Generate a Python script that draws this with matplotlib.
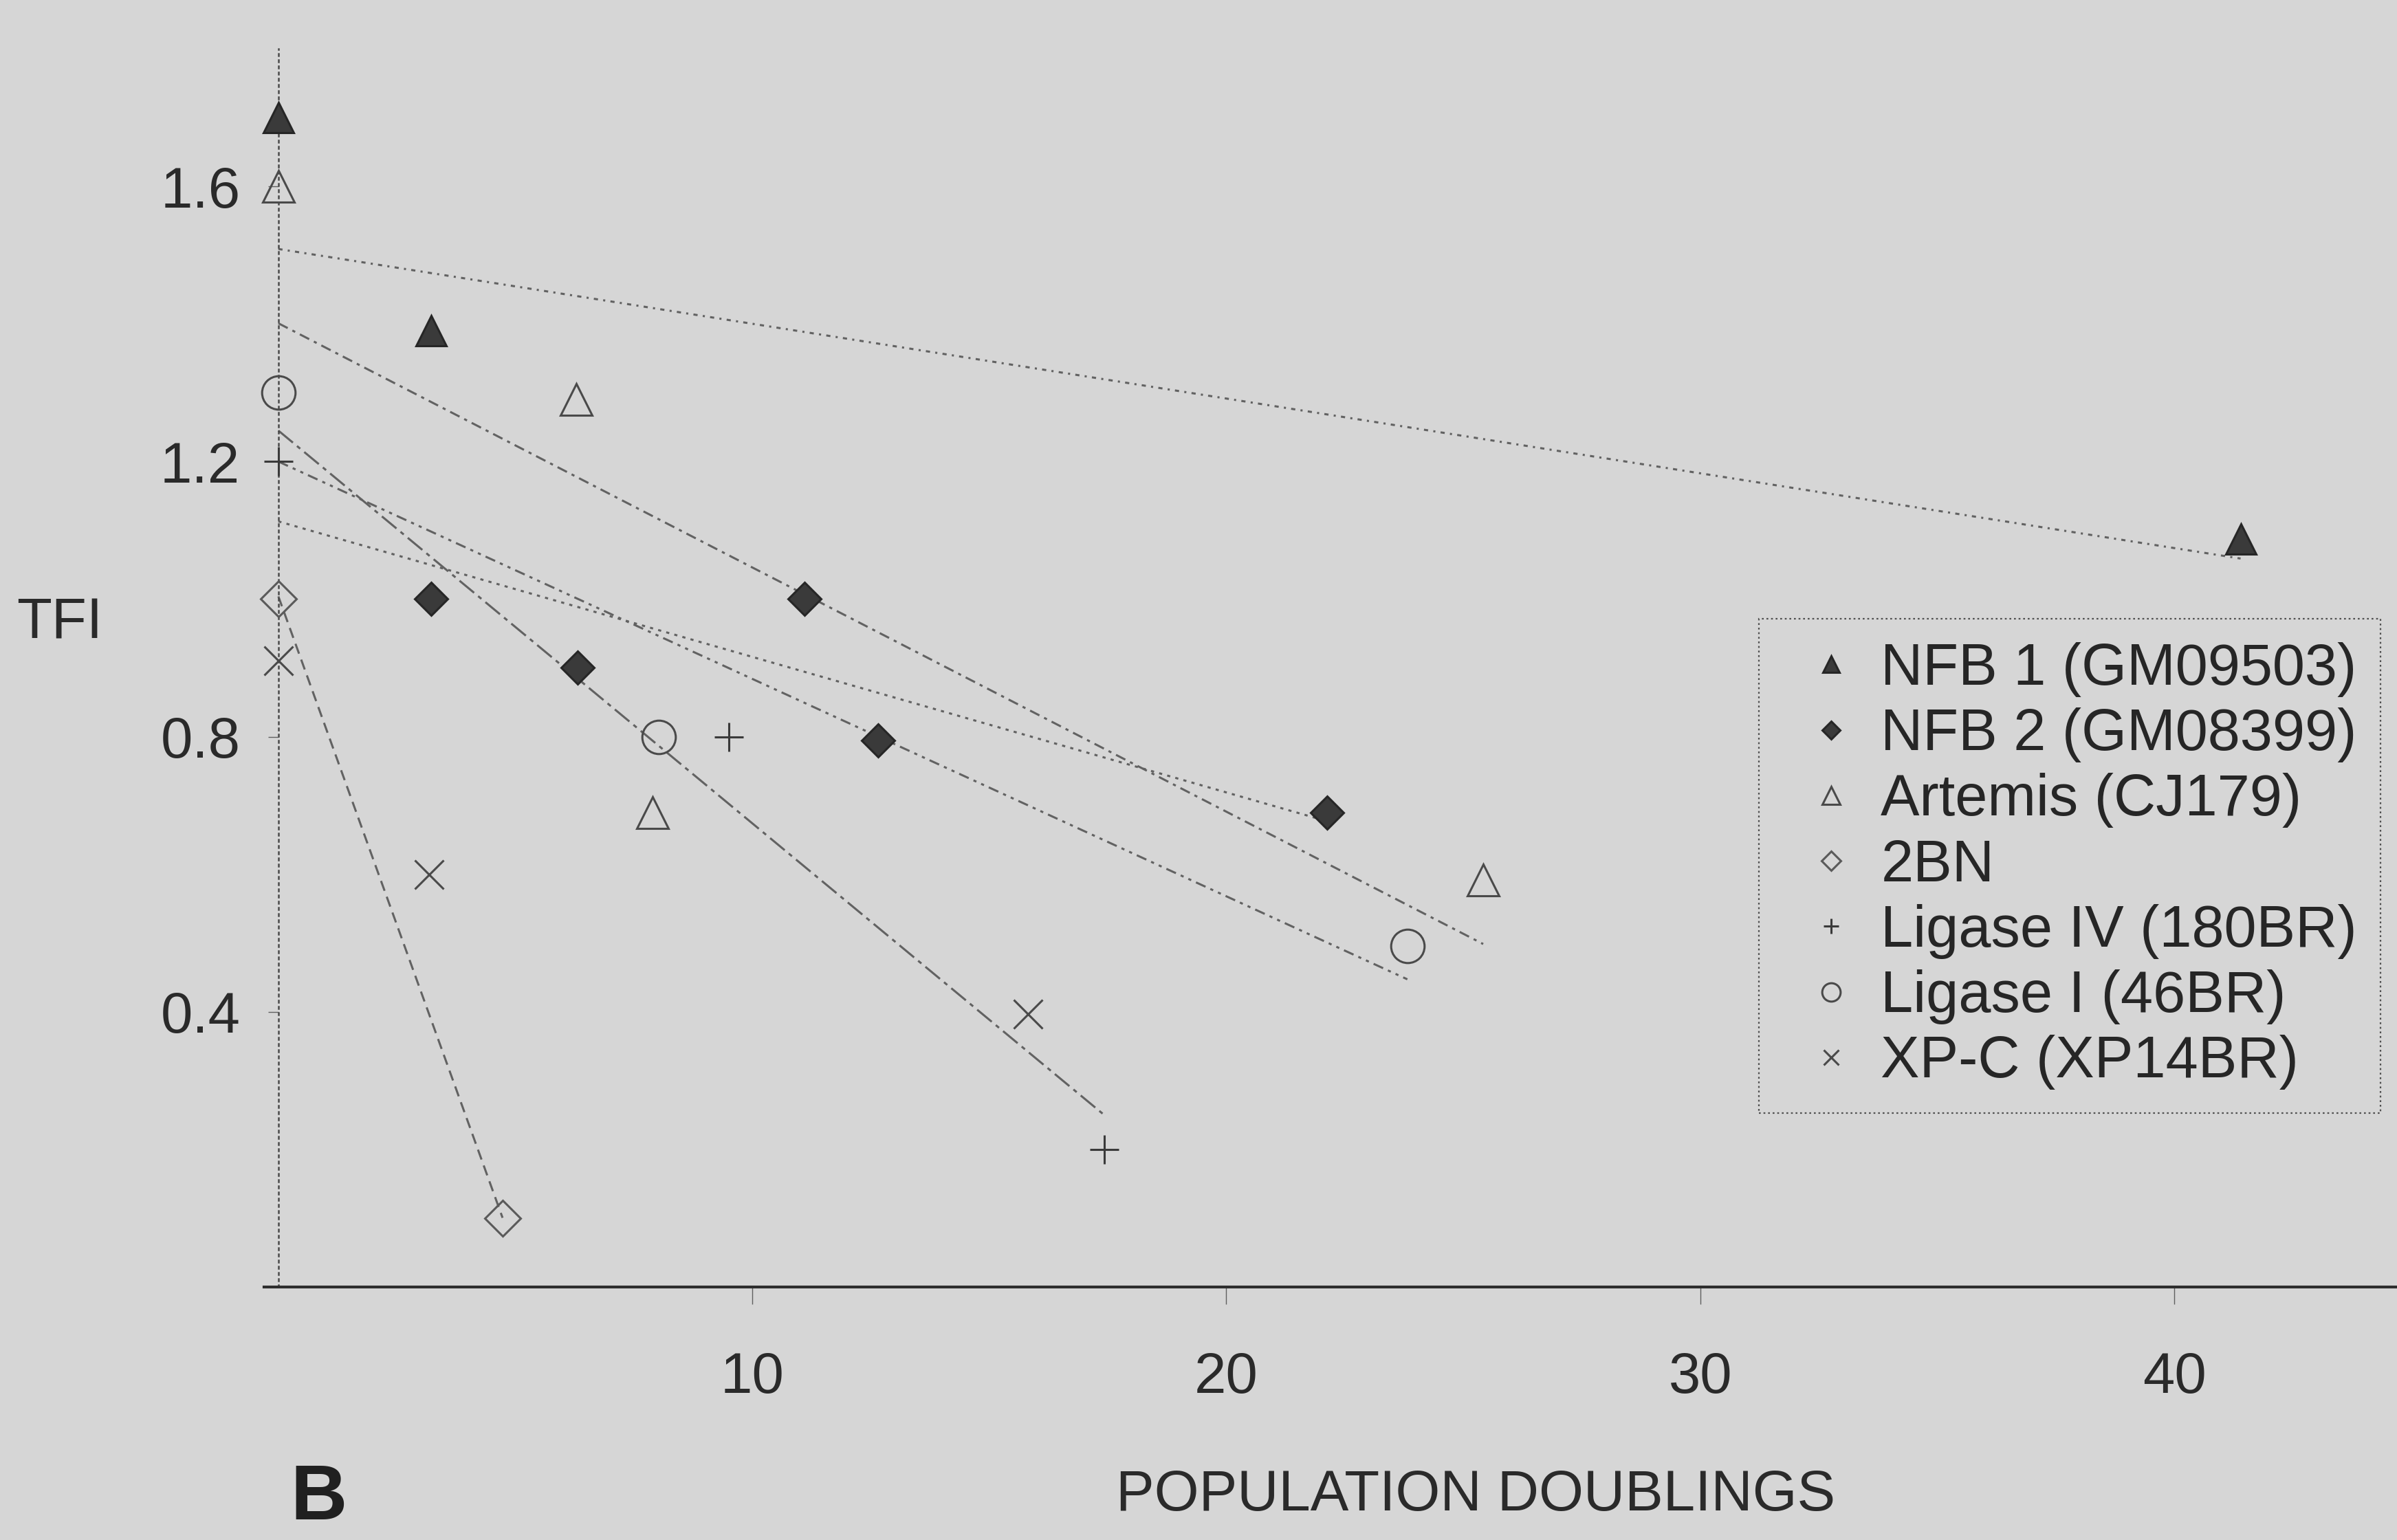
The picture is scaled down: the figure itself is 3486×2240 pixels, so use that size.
import matplotlib.pyplot as plt
import numpy as np

plt.rcParams['font.family'] = ['Liberation Sans', 'DejaVu Sans']

# TFI against population doublings for each cell line
labels = ["NFB 1 (GM09503)", "NFB 2 (GM08399)", "Artemis (CJ179)", "2BN",
          "Ligase IV (180BR)", "Ligase I (46BR)", "XP-C (XP14BR)"]

nfb1_pd = [0, 3.23, 41.4]
nfb1_tfi = [1.70, 1.39, 1.087]

nfb2_pd = [3.23, 6.31, 11.1, 12.65, 22.13]
nfb2_tfi = [1.00, 0.90, 1.00, 0.795, 0.69]

artemis_pd = [0, 6.28, 7.9, 25.42]
artemis_tfi = [1.60, 1.29, 0.69, 0.592]

bn2_pd = [0, 4.73]
bn2_tfi = [1.00, 0.10]

lig4_pd = [0, 9.51, 17.42]
lig4_tfi = [1.20, 0.80, 0.20]

lig1_pd = [0, 8.02, 23.82]
lig1_tfi = [1.30, 0.80, 0.496]

xpc_pd = [0, 3.18, 15.81]
xpc_tfi = [0.91, 0.60, 0.397]

# linear trendlines (intercept, slope); XP-C has none
trend_intercept = [1.509, 1.113, 1.401, 1.004, 1.245, 1.20, None]
trend_slope = [-0.01087, -0.0197, -0.0355, -0.191, -0.0571, -0.0316, None]

xs = [nfb1_pd, nfb2_pd, artemis_pd, bn2_pd, lig4_pd, lig1_pd, xpc_pd]
ys = [nfb1_tfi, nfb2_tfi, artemis_tfi, bn2_tfi, lig4_tfi, lig1_tfi, xpc_tfi]

markers = ['^', 'D', '^', 'D', '+', 'o', 'x']
msizes = [31, 24, 33, 26, 30, 35, 30]
faces = ['#3a3a3a', '#3a3a3a', 'none', 'none', 'none', 'none', 'none']
edges = ['#262626', '#262626', '#4a4a4a', '#5a5a5a', '#3a3a3a', '#4a4a4a', '#4a4a4a']
trend_styles = [(0, (2, 2.5, 1, 2.5)), (0, (1.5, 2.5)), (0, (5, 2.5, 1.5, 2.5)),
                (0, (5, 3)), (0, (9, 2.5, 2, 2.5)), (0, (5, 2.5, 1.5, 2.5, 1.5, 2.5)), None]

bg = '#d6d6d6'
fig = plt.figure(figsize=(34.86, 22.4), dpi=100, facecolor=bg)
ax = fig.add_axes([0.1102, 0.1643, 0.8898, 0.804], facecolor=bg)

# trendlines first, markers on top
for i in range(len(labels)):
    if trend_intercept[i] is None:
        continue
    xx = np.array([0, max(xs[i])])
    ax.plot(xx, trend_intercept[i] + trend_slope[i] * xx, color='#626262',
            lw=2.2, linestyle=trend_styles[i], zorder=2)

for i in range(len(labels)):
    ax.plot(xs[i], ys[i], linestyle='none', marker=markers[i], ms=msizes[i],
            mfc=faces[i], mec=edges[i], mew=2.2, label=labels[i], zorder=3,
            clip_on=False)

ax.set_xlim(-0.3, 44.7)
ax.set_ylim(0, 1.8)
ax.set_xticks([10, 20, 30, 40])
ax.set_yticks([0.4, 0.8, 1.2, 1.6])
ax.set_yticklabels(['0.4', '0.8', '1.2', '1.6'])

for s in ['top', 'right']:
    ax.spines[s].set_visible(False)
ax.spines['left'].set_position(('data', 0))
ax.spines['left'].set_color('#4a4a4a')
ax.spines['left'].set_linewidth(1.8)
ax.spines['left'].set_linestyle((0, (1.2, 2.4)))
ax.spines['bottom'].set_color('#2e2e2e')
ax.spines['bottom'].set_linewidth(3.0)

ax.tick_params(axis='x', direction='out', length=18, width=1.0, color='#606060',
               pad=49, labelsize=60, labelcolor='#2a2a2a')
ax.tick_params(axis='y', direction='out', length=11, width=1.0, color='#606060',
               pad=29, labelsize=60, labelcolor='#2a2a2a')

ax.set_xlabel('POPULATION DOUBLINGS', fontsize=60, color='#2a2a2a', va='center')
ax.xaxis.set_label_coords(0.568, -0.168)
ax.set_ylabel('TFI', fontsize=60, color='#2a2a2a', rotation=0, ha='center', va='center')
ax.yaxis.set_label_coords(-0.096, 0.536)

leg = ax.legend(loc='upper right', bbox_to_anchor=(0.9931, 0.5982),
                bbox_transform=fig.transFigure, borderaxespad=0, fontsize=61,
                markerscale=0.55, handlelength=1.7, handletextpad=0.0,
                borderpad=0.4, labelspacing=0.18, fancybox=False,
                facecolor=bg, framealpha=1, edgecolor='#505050')
leg.get_frame().set_linestyle((0, (1.2, 1.8)))
leg.get_frame().set_linewidth(1.6)
for t in leg.get_texts():
    t.set_color('#262626')

# panel letter
fig.text(422 / 3486, 1 - 2210 / 2240, 'B', fontsize=82, fontweight='bold',
         color='#202020', ha='left', va='baseline')

fig.savefig('out.png', dpi=100, facecolor=bg)
